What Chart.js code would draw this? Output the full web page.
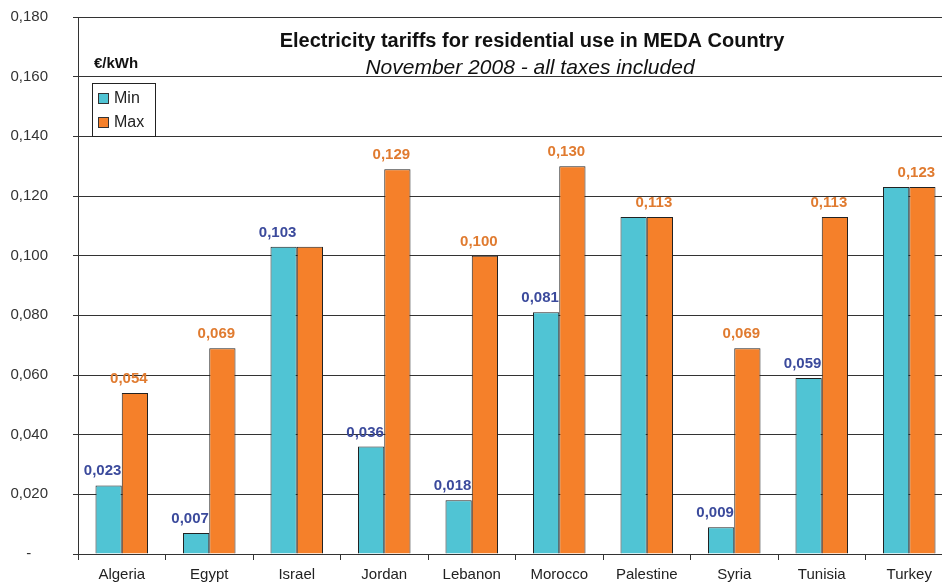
<!DOCTYPE html>
<html>
<head>
<meta charset="utf-8">
<script src="https://cdn.jsdelivr.net/npm/chart.js@4.4.1/dist/chart.umd.min.js"></script>
<style>
  html, body { margin: 0; padding: 0; background: #fff; overflow: hidden; }
  #wrap { width: 960px; height: 605px; position: relative; margin-top: -17px; }
</style>
</head>
<body>
<div id="wrap"><canvas id="c" width="960" height="605"></canvas></div>
<script>
const categories = ['Algeria','Egypt','Israel','Jordan','Lebanon','Morocco','Palestine','Syria','Tunisia','Turkey'];
const minValues = [0.023, 0.007, 0.103, 0.036, 0.018, 0.081, 0.113, 0.009, 0.059, 0.123];
const maxValues = [0.054, 0.069, 0.103, 0.129, 0.100, 0.130, 0.113, 0.069, 0.113, 0.123];
const minLabelShown = [true, true, true, true, true, true, false, true, true, false];
const maxLabelShown = [true, true, false, true, true, true, true, true, true, true];
const yTicks = [0, 0.02, 0.04, 0.06, 0.08, 0.10, 0.12, 0.14, 0.16, 0.18];
const titleText = 'Electricity tariffs for residential use in MEDA Country';
const subtitleText = 'November 2008 - all taxes included';
const unitText = '€/kWh';

const FONT = '"Liberation Sans", Arial, Helvetica, sans-serif';
const fmt = v => v.toFixed(3).replace('.', ',');

const overlay = {
  id: 'overlay',
  afterDatasetsDraw(chart) {
    const ctx = chart.ctx;
    const top = chart.chartArea.top;
    const left = chart.chartArea.left;
    ctx.save();
    const shows = [minLabelShown, maxLabelShown];
    const colors = ['#3b4a9c', '#e07b30'];
    chart.data.datasets.forEach((ds, di) => {
      const meta = chart.getDatasetMeta(di);
      meta.data.forEach((bar, i) => {
        if (!shows[di][i]) return;
        ctx.font = 'bold 15px ' + FONT;
        ctx.fillStyle = colors[di];
        ctx.textAlign = 'center';
        ctx.textBaseline = 'alphabetic';
        ctx.fillText(fmt(ds.data[i]), bar.x - 6, bar.y - 10);
      });
    });
    ctx.fillStyle = '#111';
    ctx.textAlign = 'center';
    ctx.font = 'bold 20px ' + FONT;
    ctx.fillText(titleText, 532, top + 30);
    ctx.font = 'italic 21px ' + FONT;
    ctx.fillText(subtitleText, 530, top + 57);
    ctx.textAlign = 'left';
    ctx.font = 'bold 15px ' + FONT;
    ctx.fillText(unitText, left + 16, top + 51);
    const lx = left + 14.5, ly = top + 66.5;
    ctx.fillStyle = '#fff';
    ctx.fillRect(lx, ly, 63, 53);
    ctx.strokeStyle = '#222';
    ctx.lineWidth = 1;
    ctx.strokeRect(lx, ly, 63, 53);
    chart.data.datasets.forEach((ds, di) => {
      const cy = ly + 14.5 + di * 24;
      ctx.fillStyle = ds.backgroundColor;
      ctx.fillRect(lx + 6, cy - 4.5, 10, 10);
      ctx.strokeStyle = '#333';
      ctx.strokeRect(lx + 6, cy - 4.5, 10, 10);
      ctx.fillStyle = '#222';
      ctx.font = '16px ' + FONT;
      ctx.textBaseline = 'middle';
      ctx.fillText(ds.label, lx + 21.5, cy + 1);
      ctx.textBaseline = 'alphabetic';
    });
    ctx.restore();
  }
};

new Chart(document.getElementById('c'), {
  type: 'bar',
  data: {
    labels: categories,
    datasets: [
      { label: 'Min', data: minValues, backgroundColor: '#50c4d4', borderColor: '#222', borderWidth: 1 },
      { label: 'Max', data: maxValues, backgroundColor: '#f5802a', borderColor: '#222', borderWidth: 1 }
    ]
  },
  options: {
    responsive: false,
    animation: false,
    devicePixelRatio: 1,
    layout: { padding: { top: 0, right: 7, left: 0, bottom: 0 } },
    datasets: { bar: { categoryPercentage: 0.6, barPercentage: 1.0 } },
    plugins: { legend: { display: false }, tooltip: { enabled: false }, title: { display: false } },
    scales: {
      x: {
        grid: { display: true, drawOnChartArea: false, drawTicks: true, tickLength: 6, color: '#333', offset: true },
        border: { display: true, color: '#333', width: 1 },
        ticks: { color: '#222', font: { family: FONT, size: 15 }, padding: 6, maxRotation: 0, autoSkip: false },
        afterFit(s) { s.height = 33; }
      },
      y: {
        min: 0, max: 0.18,
        afterBuildTicks(s) { s.ticks = yTicks.map(v => ({ value: v })); },
        grid: { color: '#333', lineWidth: 1, drawTicks: true, tickLength: 5 },
        border: { display: true, color: '#333', width: 1 },
        ticks: {
          color: '#333', font: { family: FONT, size: 15 }, padding: 25,
          callback: v => v === 0 ? '-    ' : fmt(v)
        },
        afterFit(s) { s.width = 78; }
      }
    }
  },
  plugins: [overlay]
});
</script>
</body>
</html>
